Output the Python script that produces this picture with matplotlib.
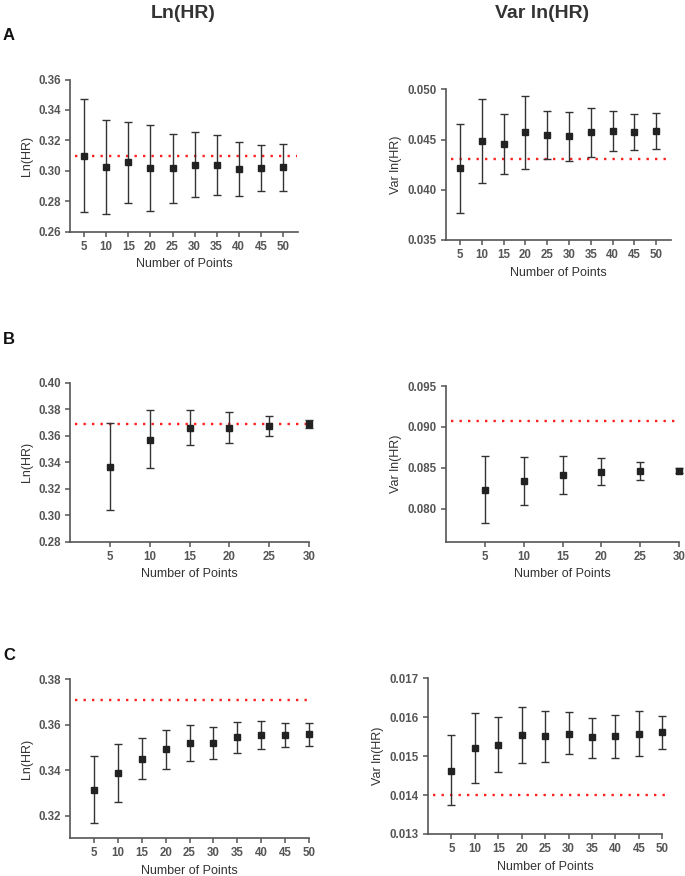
import matplotlib
matplotlib.use("Agg")
import matplotlib.pyplot as plt
import numpy as np

plt.rcParams['font.family'] = ['Liberation Sans', 'DejaVu Sans']

# ---------------- data ----------------
points_50 = [5, 10, 15, 20, 25, 30, 35, 40, 45, 50]
points_30 = [5, 10, 15, 20, 25, 30]

# Panel A
a_ln_mean = [0.3097, 0.3025, 0.3057, 0.3016, 0.3016, 0.3040, 0.3040, 0.3011, 0.3016, 0.3022]
a_ln_hi   = [0.3469, 0.3335, 0.3324, 0.3298, 0.3245, 0.3252, 0.3237, 0.3189, 0.3169, 0.3178]
a_ln_lo   = [0.2727, 0.2716, 0.2786, 0.2733, 0.2790, 0.2830, 0.2838, 0.2834, 0.2865, 0.2867]
a_ln_ref  = 0.3099
a_var_mean = [0.04213, 0.04486, 0.04452, 0.04572, 0.04549, 0.04532, 0.04572, 0.04585, 0.04572, 0.04582]
a_var_hi   = [0.04655, 0.04907, 0.04751, 0.04937, 0.04788, 0.04771, 0.04817, 0.04781, 0.04751, 0.04764]
a_var_lo   = [0.03772, 0.04064, 0.04157, 0.04210, 0.04306, 0.04287, 0.04323, 0.04386, 0.04393, 0.04403]
a_var_ref  = 0.04310

# Panel B
b_ln_mean = [0.3366, 0.3570, 0.3660, 0.3658, 0.3673, 0.3686]
b_ln_hi   = [0.3698, 0.3791, 0.3791, 0.3776, 0.3746, 0.3716]
b_ln_lo   = [0.3036, 0.3353, 0.3530, 0.3547, 0.3600, 0.3660]
b_ln_ref  = 0.3691
b_var_mean = [0.08236, 0.08341, 0.08415, 0.08455, 0.08459, 0.08467]
b_var_hi   = [0.08646, 0.08630, 0.08646, 0.08626, 0.08573, 0.08504]
b_var_lo   = [0.07829, 0.08049, 0.08183, 0.08289, 0.08350, 0.08435]
b_var_ref  = 0.09077

# Panel C
c_ln_mean = [0.3313, 0.3388, 0.3451, 0.3491, 0.3520, 0.3519, 0.3544, 0.3554, 0.3553, 0.3557]
c_ln_hi   = [0.3463, 0.3513, 0.3543, 0.3578, 0.3599, 0.3588, 0.3614, 0.3616, 0.3607, 0.3609]
c_ln_lo   = [0.3166, 0.3261, 0.3362, 0.3404, 0.3440, 0.3449, 0.3475, 0.3491, 0.3500, 0.3507]
c_ln_ref  = 0.3709
c_var_mean = [0.014627, 0.015218, 0.015295, 0.015535, 0.015510, 0.015578, 0.015484, 0.015510, 0.015578, 0.015612]
c_var_hi   = [0.015535, 0.016109, 0.016006, 0.016255, 0.016161, 0.016126, 0.015972, 0.016058, 0.016161, 0.016041]
c_var_lo   = [0.013745, 0.014319, 0.014585, 0.014816, 0.014850, 0.015047, 0.014961, 0.014953, 0.015013, 0.015176]
c_var_ref  = 0.01400

AX_COLOR = '#555555'
TXT_COLOR = '#555555'

W, H = 685, 876
fig = plt.figure(figsize=(W / 100, H / 100), dpi=100)


def add_ax(x0, y0, x1, y1):
    # pixel box -> figure coords
    return fig.add_axes([x0 / W, 1 - y1 / H, (x1 - x0) / W, (y1 - y0) / H])


def panel(ax, x, mean, hi, lo, ref, ylim, yticks, yfmt, xlim, ylabel, line_end=0.995):
    mean = np.array(mean)
    yerr = [mean - np.array(lo), np.array(hi) - mean]
    ax.axhline(ref, color='#ff2020', linestyle=(0, (1, 2.6)), linewidth=1.7,
               xmin=0.02, xmax=line_end, zorder=1, clip_on=False)
    eb = ax.errorbar(x, mean, yerr=yerr, fmt='s', color='#222222', ecolor='#333333',
                     elinewidth=1.0, capsize=2.8, capthick=1.0, markersize=4.2, zorder=3)
    for art in eb.get_children():
        art.set_clip_on(False)
    ax.set_xlim(*xlim)
    ax.set_ylim(*ylim)
    ax.set_xticks(x)
    ax.set_yticks(yticks)
    ax.set_yticklabels([yfmt.format(v) for v in yticks])
    for s in ['top', 'right']:
        ax.spines[s].set_visible(False)
    for s in ['left', 'bottom']:
        ax.spines[s].set_color(AX_COLOR)
        ax.spines[s].set_linewidth(1.2)
    ax.tick_params(axis='both', direction='out', length=3.5, width=1.1, color=AX_COLOR,
                   labelcolor=TXT_COLOR, labelsize=8.3, pad=3)
    for lab in ax.get_xticklabels() + ax.get_yticklabels():
        lab.set_fontweight('bold')
    ax.set_xlabel('Number of Points', fontsize=9, color='#333333', labelpad=4)
    ax.set_ylabel(ylabel, fontsize=9, color='#333333', labelpad=4)


# A left
ax = add_ax(70, 79.5, 298, 231.7)
panel(ax, points_50, a_ln_mean, a_ln_hi, a_ln_lo, a_ln_ref, (0.26, 0.36),
      [0.26, 0.28, 0.30, 0.32, 0.34, 0.36], '{:.2f}', (1.8, 53.4), 'Ln(HR)')
# A right
ax = add_ax(446, 89.3, 671, 240)
panel(ax, points_50, a_var_mean, a_var_hi, a_var_lo, a_var_ref, (0.035, 0.050),
      [0.035, 0.040, 0.045, 0.050], '{:.3f}', (1.8, 53.4), 'Var ln(HR)')
# B left
ax = add_ax(70, 382.7, 309, 541.7)
panel(ax, points_30, b_ln_mean, b_ln_hi, b_ln_lo, b_ln_ref, (0.28, 0.40),
      [0.28, 0.30, 0.32, 0.34, 0.36, 0.38, 0.40], '{:.2f}', (0, 30), 'Ln(HR)')
# B right
ax = add_ax(446, 386, 679, 541.7)
panel(ax, points_30, b_var_mean, b_var_hi, b_var_lo, b_var_ref, (0.076, 0.095),
      [0.080, 0.085, 0.090, 0.095], '{:.3f}', (0, 30), 'Var ln(HR)')
# C left
ax = add_ax(70, 679.3, 309, 838.3)
panel(ax, points_50, c_ln_mean, c_ln_hi, c_ln_lo, c_ln_ref, (0.31, 0.38),
      [0.32, 0.34, 0.36, 0.38], '{:.2f}', (0, 50), 'Ln(HR)')
# C right
ax = add_ax(428, 678.3, 662.3, 834)
panel(ax, points_50, c_var_mean, c_var_hi, c_var_lo, c_var_ref, (0.013, 0.017),
      [0.013, 0.014, 0.015, 0.016, 0.017], '{:.3f}', (0, 50), 'Var ln(HR)', line_end=1.02)

# Column titles and panel letters
fig.text(183 / W, 1 - 13 / H, 'Ln(HR)', ha='center', va='center', fontsize=14,
         fontweight='bold', color='#333333')
fig.text(542 / W, 1 - 13 / H, 'Var ln(HR)', ha='center', va='center', fontsize=14,
         fontweight='bold', color='#333333')
for letter, yy in [('A', 35), ('B', 340), ('C', 655)]:
    fig.text(3 / W, 1 - yy / H, letter, ha='left', va='center', fontsize=12,
             fontweight='bold', color='#111111')

fig.savefig('out.png', dpi=100)
